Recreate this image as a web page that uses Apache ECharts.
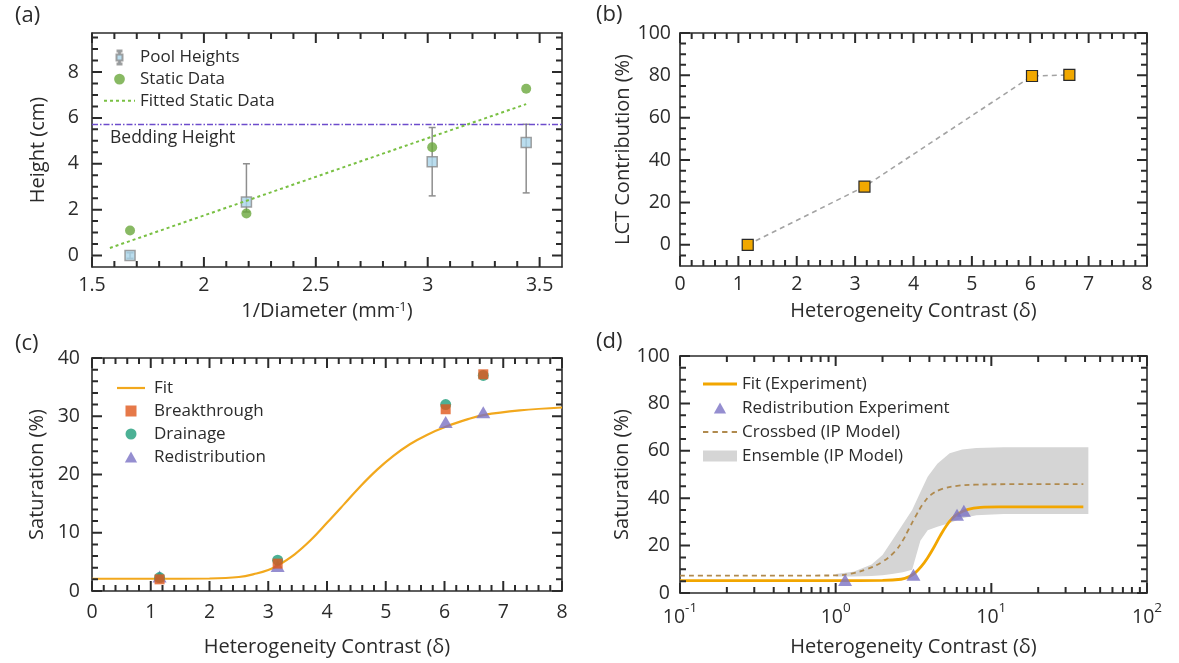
<!DOCTYPE html>
<html>
<head>
<meta charset="utf-8">
<script src="https://cdn.jsdelivr.net/npm/echarts@6/dist/echarts.min.js"></script>
<style>
  html, body { margin: 0; padding: 0; background: #ffffff; }
  #main { width: 1179px; height: 663px; }
</style>
</head>
<body>
<div id="main"></div>
<script>
// ---------- (a) pool height versus inverse grain diameter ----------
const poolX = [1.67, 2.19, 3.02, 3.44];
const poolY = [0.0, 2.33, 4.09, 4.93];
const poolLow = [-0.12, 1.9, 2.6, 2.73];
const poolHigh = [0.12, 4.0, 5.58, 5.72];
const staticX = [1.67, 2.19, 3.02, 3.44];
const staticY = [1.09, 1.83, 4.72, 7.27];
const fittedX = [1.58, 3.44];
const fittedY = [0.33, 6.6];
const beddingHeight = 5.74;

// ---------- (b) LCT contribution ----------
const lctX = [1.16, 3.16, 6.03, 6.67];
const lctY = [0, 27.5, 79.7, 80.2];

// ---------- (c) saturation versus heterogeneity contrast ----------
const expX = [1.15, 3.16, 6.02, 6.66];
const breakthroughY = [2.0, 4.7, 31.2, 37.2];
const drainageY = [2.3, 5.3, 32.0, 37.0];
const redistributionY = [2.5, 4.3, 29.0, 30.7];
const fitCX = [0, 1, 2, 2.5, 2.8, 3.0, 3.15, 3.45, 3.72, 4.0, 4.3, 4.57, 4.85, 5.13, 5.41, 5.7, 6.02, 6.4, 6.66, 7.28, 8];
const fitCY = [2.1, 2.1, 2.15, 2.4, 3.0, 3.6, 4.3, 6.3, 8.7, 11.7, 15.0, 18.0, 20.8, 23.2, 25.2, 26.8, 28.2, 29.5, 30.2, 31.0, 31.5];

// ---------- (d) experiment versus invasion-percolation model ----------
const redistDX = [1.15, 3.16, 6.02, 6.66];
const redistDY = [5.5, 7.7, 33.0, 34.7];
const fitDX = [0.1, 1, 2.0, 2.63, 2.95, 3.24, 3.55, 3.89, 4.27, 4.68, 5.13, 5.62, 6.17, 7.08, 8.51, 11.2, 39];
const fitDY = [5.2, 5.2, 5.3, 5.8, 6.8, 8.5, 11.2, 14.8, 19.2, 24.0, 28.3, 31.5, 33.6, 35.3, 36.1, 36.3, 36.3];
const crossX = [0.1, 1.0, 1.26, 1.58, 2.0, 2.4, 2.69, 2.95, 3.24, 3.63, 4.07, 4.79, 6.03, 7.94, 12.6, 39];
const crossY = [7.3, 7.4, 8.2, 10.0, 13.2, 17.5, 22.0, 27.0, 32.0, 37.5, 41.3, 43.8, 45.2, 45.7, 45.9, 45.9];
const ensX = [1.0, 1.3, 1.7, 2.0, 2.3, 2.7, 3.1, 3.5, 3.9, 4.5, 5.4, 6.5, 8, 12, 42];
const ensLow = [7.0, 7.0, 7.2, 7.5, 8.0, 8.8, 9.8, 22, 26.5, 28, 29.5, 31.5, 32.8, 33.3, 33.3];
const ensHigh = [8.0, 9.0, 12, 16, 22, 29, 35, 42.5, 49, 54.5, 59, 60.5, 61.2, 61.5, 61.5];

// ---------- tick positions ----------
const aXMajor = [1.5, 2, 2.5, 3, 3.5];
const aXMinor = [1.6, 1.7, 1.8, 1.9, 2.1, 2.2, 2.3, 2.4, 2.6, 2.7, 2.8, 2.9, 3.1, 3.2, 3.3, 3.4];
const aYMajor = [0, 2, 4, 6, 8];
const aYMinor = [0.5, 1, 1.5, 2.5, 3, 3.5, 4.5, 5, 5.5, 6.5, 7, 7.5, 8.5, 9, 9.5];
const deltaMajor = [0, 1, 2, 3, 4, 5, 6, 7, 8];
const deltaMinor = [0.2, 0.4, 0.6, 0.8, 1.2, 1.4, 1.6, 1.8, 2.2, 2.4, 2.6, 2.8, 3.2, 3.4, 3.6, 3.8,
  4.2, 4.4, 4.6, 4.8, 5.2, 5.4, 5.6, 5.8, 6.2, 6.4, 6.6, 6.8, 7.2, 7.4, 7.6, 7.8];
const pctMajor = [0, 20, 40, 60, 80, 100];
const pctMinor = [-5, 5, 10, 15, 25, 30, 35, 45, 50, 55, 65, 70, 75, 85, 90, 95];
const pctMinorD = [5, 10, 15, 25, 30, 35, 45, 50, 55, 65, 70, 75, 85, 90, 95];
const cYMajor = [0, 10, 20, 30, 40];
const cYMinor = [2, 4, 6, 8, 12, 14, 16, 18, 22, 24, 26, 28, 32, 34, 36, 38];
const logMajor = [0.1, 1, 10, 100];
const logExponents = ['-1', '0', '1', '2'];
const logMinor = [0.2, 0.3, 0.4, 0.5, 0.6, 0.7, 0.8, 0.9, 2, 3, 4, 5, 6, 7, 8, 9, 20, 30, 40, 50, 60, 70, 80, 90];

const FONT = 'Open Sans';
const INK = '#2b2b2b';
const TICK_FONT = 19.5;
const NAME_FONT = 20;
const LEGEND_FONT = 17;
const MAJOR_LEN = 10;
const MINOR_LEN = 6;

// plot rectangles (pixels)
const gridBoxes = [
  { left: 92, top: 33, width: 470, height: 234 },
  { left: 680, top: 33, width: 467, height: 233 },
  { left: 92, top: 358, width: 470, height: 233 },
  { left: 680, top: 356, width: 467, height: 237 }
];

// Labelled axis plus a mirrored, unlabelled one so every plot gets a closed frame.
function frameAxes(dim, gridIndex, o) {
  const near = dim === 'x' ? 'bottom' : 'left';
  const far = dim === 'x' ? 'top' : 'right';
  const base = {
    gridIndex: gridIndex,
    type: o.type || 'value',
    min: o.min, max: o.max,
    splitLine: { show: false },
    axisPointer: { show: false },
    axisTick: { show: false },
    axisLine: { show: true, onZero: false, lineStyle: { color: INK, width: 1.6 } }
  };
  if (o.type === 'log') base.logBase = 10;
  const label = Object.assign({
    show: true, color: INK, fontFamily: FONT, fontSize: TICK_FONT, margin: o.margin
  }, o.label || {});
  if (o.major) label.customValues = o.major;
  return [
    Object.assign({}, base, {
      position: near,
      name: o.name, nameLocation: 'middle', nameGap: o.nameGap,
      nameRotate: dim === 'y' ? 90 : 0,
      nameTextStyle: Object.assign({ color: INK, fontFamily: FONT, fontSize: NAME_FONT }, o.nameStyle || {}),
      axisLabel: label
    }),
    Object.assign({}, base, { position: far, axisLabel: { show: false } })
  ];
}

const supRich = {
  s: { fontFamily: FONT, fontSize: 13, verticalAlign: 'top', color: INK }
};

const xAxes = [].concat(
  frameAxes('x', 0, { min: 1.5, max: 3.6, major: aXMajor, margin: 8,
    name: '1/Diameter (mm{s|-1})', nameGap: 34, nameStyle: { rich: supRich } }),
  frameAxes('x', 1, { min: 0, max: 8, major: deltaMajor, margin: 8,
    name: 'Heterogeneity Contrast (\u03b4)', nameGap: 35 }),
  frameAxes('x', 2, { min: 0, max: 8, major: deltaMajor, margin: 11,
    name: 'Heterogeneity Contrast (\u03b4)', nameGap: 46 }),
  frameAxes('x', 3, { type: 'log', min: 0.1, max: 100, margin: 8,
    name: 'Heterogeneity Contrast (\u03b4)', nameGap: 44,
    label: {
      formatter: function (v, i) { return '{b|10}{s|' + logExponents[i] + '}'; },
      rich: {
        b: { fontFamily: FONT, fontSize: TICK_FONT, color: INK, padding: [6, 0, 0, 0], verticalAlign: 'bottom' },
        s: { fontFamily: FONT, fontSize: 13.5, color: INK, verticalAlign: 'top' }
      }
    } })
);
const yAxes = [].concat(
  frameAxes('y', 0, { min: -0.5, max: 9.7, major: aYMajor, margin: 13,
    name: 'Height (cm)', nameGap: 44 }),
  frameAxes('y', 1, { min: -10, max: 100, major: pctMajor, margin: 9,
    name: 'LCT Contribution (%)', nameGap: 43 }),
  frameAxes('y', 2, { min: 0, max: 40, major: cYMajor, margin: 12,
    name: 'Saturation (%)', nameGap: 45 }),
  frameAxes('y', 3, { min: 0, max: 100, major: pctMajor, margin: 10,
    name: 'Saturation (%)', nameGap: 44 })
);

// tick layout per plot: which axes, the value ranges, and the tick values
const frames = [
  { ax: 0, box: gridBoxes[0], xr: [1.5, 3.6], yr: [-0.5, 9.7], logX: false,
    xMajor: aXMajor, xMinor: aXMinor, yMajor: aYMajor, yMinor: aYMinor },
  { ax: 2, box: gridBoxes[1], xr: [0, 8], yr: [-10, 100], logX: false,
    xMajor: deltaMajor, xMinor: deltaMinor, yMajor: pctMajor, yMinor: pctMinor },
  { ax: 4, box: gridBoxes[2], xr: [0, 8], yr: [0, 40], logX: false,
    xMajor: deltaMajor, xMinor: deltaMinor, yMajor: cYMajor, yMinor: cYMinor },
  { ax: 6, box: gridBoxes[3], xr: [0.1, 100], yr: [0, 100], logX: true,
    xMajor: logMajor, xMinor: logMinor, yMajor: pctMajor, yMinor: pctMinorD }
];

// Tick marks as broken polylines in data space: each tick runs from an edge
// inward by a fixed pixel length converted to that axis' units.
function tickLine(f, xVals, yVals, len) {
  const dy = len * (f.yr[1] - f.yr[0]) / f.box.height;
  function shiftX(x, px) {
    if (f.logX) {
      const decades = Math.log10(f.xr[1] / f.xr[0]);
      return x * Math.pow(10, px * decades / f.box.width);
    }
    return x + px * (f.xr[1] - f.xr[0]) / f.box.width;
  }
  const pts = [];
  xVals.forEach(function (v) {
    pts.push([v, f.yr[0]], [v, f.yr[0] + dy], [v, '-']);
    pts.push([v, f.yr[1]], [v, f.yr[1] - dy], [v, '-']);
  });
  yVals.forEach(function (v) {
    pts.push([f.xr[0], v], [shiftX(f.xr[0], len), v], [f.xr[0], '-']);
    pts.push([f.xr[1], v], [shiftX(f.xr[1], -len), v], [f.xr[1], '-']);
  });
  return {
    type: 'line', name: 'ticks', xAxisIndex: f.ax, yAxisIndex: f.ax,
    silent: true, clip: false, z: 6, symbol: 'none', connectNulls: false,
    lineStyle: { color: INK, width: 2 },
    data: pts
  };
}
function tickSeries(f) {
  return [
    tickLine(f, f.xMajor, f.yMajor, MAJOR_LEN),
    tickLine(f, f.xMinor, f.yMinor, MINOR_LEN)
  ];
}

function pairs(xs, ys) { return xs.map(function (x, i) { return [x, ys[i]]; }); }

const SQUARE = 'path://M0,0 L10,0 L10,10 L0,10 Z';
const TRIANGLE = 'path://M5,0 L10,9 L0,9 Z';
const DOT = 'path://M0,0 M13,13 M6.5,1.5 A5,5 0 1 1 6.49,1.5 Z';
const ERRBAR = 'path://M4,0 L8,0 L8,1 L6.6,1 L6.6,4 L9,4 L9,10 L6.6,10 L6.6,13 L8,13 L8,14 L4,14 L4,13 L5.4,13 L5.4,10 L3,10 L3,4 L5.4,4 L5.4,1 L4,1 Z';
const DOTTED = 'path://M0,0h3v2h-3z M6,0h3v2h-3z M12,0h3v2h-3z M18,0h3v2h-3z M24,0h3v2h-3z M30,0h1v2h-1z';
const SOLID_C = 'path://M0,0h28v2.2h-28z';
const SOLID_D = 'path://M0,0h34v2.8h-34z';
const DASHED = 'path://M0,0h5v1.8h-5z M9,0h5v1.8h-5z M18,0h5v1.8h-5z M27,0h5v1.8h-5z';

const legendText = { fontFamily: FONT, fontSize: LEGEND_FONT, color: INK, lineHeight: 18 };
const panelTitle = { fontFamily: FONT, fontSize: 22, fontWeight: 'normal', color: INK };

const dataSeries = [
  // ----- (a) -----
  {
    type: 'custom', name: 'pool-error', xAxisIndex: 0, yAxisIndex: 0, silent: true, z: 2,
    data: poolX.map(function (x, i) { return [x, poolLow[i], poolHigh[i]]; }),
    encode: { x: 0, y: [1, 2] },
    renderItem: function (params, api) {
      const x = api.value(0);
      const lo = api.coord([x, api.value(1)]);
      const hi = api.coord([x, api.value(2)]);
      const st = { stroke: '#8e8e8e', lineWidth: 1.5 };
      const cap = 3.5;
      return { type: 'group', children: [
        { type: 'line', shape: { x1: lo[0], y1: lo[1], x2: hi[0], y2: hi[1] }, style: st },
        { type: 'line', shape: { x1: lo[0] - cap, y1: lo[1], x2: lo[0] + cap, y2: lo[1] }, style: st },
        { type: 'line', shape: { x1: hi[0] - cap, y1: hi[1], x2: hi[0] + cap, y2: hi[1] }, style: st }
      ] };
    }
  },
  {
    type: 'scatter', name: 'Pool Heights', xAxisIndex: 0, yAxisIndex: 0, z: 3,
    symbol: 'rect', symbolSize: 10,
    itemStyle: { color: '#a9d4ea', borderColor: '#8a8a8a', borderWidth: 1.5 },
    data: pairs(poolX, poolY)
  },
  {
    type: 'scatter', name: 'Static Data', xAxisIndex: 0, yAxisIndex: 0, z: 4,
    symbol: 'circle', symbolSize: 10,
    itemStyle: { color: '#6aa83c' },
    data: pairs(staticX, staticY)
  },
  {
    type: 'line', name: 'Fitted Static Data', xAxisIndex: 0, yAxisIndex: 0, z: 5,
    symbol: 'none', lineStyle: { color: '#79c043', width: 2, type: [3, 3] },
    itemStyle: { color: '#79c043' },
    data: pairs(fittedX, fittedY)
  },
  {
    type: 'line', name: 'bedding', xAxisIndex: 0, yAxisIndex: 0, z: 5, data: [],
    markLine: {
      silent: true, symbol: ['none', 'none'],
      lineStyle: { color: '#6d4ccc', width: 1.4, type: [6, 2, 1.5, 2] },
      label: { show: true, position: 'insideStartBottom', formatter: 'Bedding Height',
        fontFamily: FONT, fontSize: 17.5, color: INK, distance: [18, 5] },
      data: [{ yAxis: beddingHeight }]
    }
  },
  // ----- (b) -----
  {
    type: 'line', name: 'LCT', xAxisIndex: 2, yAxisIndex: 2, z: 3,
    symbol: 'rect', symbolSize: 11, showSymbol: true,
    itemStyle: { color: '#f1a800', borderColor: '#2a2a2a', borderWidth: 1.2 },
    lineStyle: { color: '#a3a3a3', width: 1.6, type: [5, 4] },
    data: pairs(lctX, lctY)
  },
  // ----- (c) -----
  {
    type: 'line', name: 'Fit', xAxisIndex: 4, yAxisIndex: 4, z: 2,
    symbol: 'none', smooth: 0.4,
    lineStyle: { color: '#f2a81d', width: 2.2 },
    itemStyle: { color: '#f2a81d' },
    data: pairs(fitCX, fitCY)
  },
  {
    type: 'scatter', name: 'Redistribution', xAxisIndex: 4, yAxisIndex: 4, z: 3,
    symbol: 'triangle', symbolSize: [14, 12], itemStyle: { color: '#7b72c4' },
    data: pairs(expX, redistributionY)
  },
  {
    type: 'scatter', name: 'Drainage', xAxisIndex: 4, yAxisIndex: 4, z: 4,
    symbol: 'circle', symbolSize: 11, itemStyle: { color: '#1f9e7a' },
    data: pairs(expX, drainageY)
  },
  {
    type: 'scatter', name: 'Breakthrough', xAxisIndex: 4, yAxisIndex: 4, z: 5,
    symbol: 'rect', symbolSize: 10, itemStyle: { color: '#e0571c' },
    data: pairs(expX, breakthroughY)
  },
  // ----- (d) -----
  {
    type: 'custom', name: 'Ensemble (IP Model)', xAxisIndex: 6, yAxisIndex: 6, z: 1, silent: true,
    itemStyle: { color: '#d5d5d5' },
    data: ensX.map(function (x, i) { return [x, ensLow[i], ensHigh[i]]; }),
    encode: { x: 0, y: [1, 2] },
    renderItem: function (params, api) {
      if (params.dataIndex !== 0) return null;
      const upper = ensX.map(function (x, i) { return api.coord([x, ensHigh[i]]); });
      const lower = ensX.map(function (x, i) { return api.coord([x, ensLow[i]]); }).reverse();
      return { type: 'polygon', shape: { points: upper.concat(lower) }, style: { fill: '#d5d5d5' } };
    }
  },
  {
    type: 'line', name: 'Crossbed (IP Model)', xAxisIndex: 6, yAxisIndex: 6, z: 2,
    symbol: 'none', smooth: 0.4,
    lineStyle: { color: '#b08a4e', width: 1.8, type: [5, 4] },
    itemStyle: { color: '#b08a4e' },
    data: pairs(crossX, crossY)
  },
  {
    type: 'line', name: 'Fit (Experiment)', xAxisIndex: 6, yAxisIndex: 6, z: 3,
    symbol: 'none', smooth: 0.4,
    lineStyle: { color: '#f2a600', width: 2.8 },
    itemStyle: { color: '#f2a600' },
    data: pairs(fitDX, fitDY)
  },
  {
    type: 'scatter', name: 'Redistribution Experiment', xAxisIndex: 6, yAxisIndex: 6, z: 4,
    symbol: 'triangle', symbolSize: [14, 12], itemStyle: { color: '#7b72c4' },
    data: pairs(redistDX, redistDY)
  }
];

let allSeries = dataSeries.slice();
frames.forEach(function (f) { allSeries = allSeries.concat(tickSeries(f)); });

const option = {
  backgroundColor: '#ffffff',
  animation: false,
  title: [
    { text: '(a)', left: 15, top: 5, padding: 0, textStyle: panelTitle },
    { text: '(b)', left: 596, top: 4, padding: 0, textStyle: panelTitle },
    { text: '(c)', left: 15, top: 333, padding: 0, textStyle: panelTitle },
    { text: '(d)', left: 596, top: 331, padding: 0, textStyle: panelTitle }
  ],
  grid: gridBoxes,
  legend: [
    { orient: 'vertical', left: 104, top: 48.5, padding: 0, itemWidth: 31, itemHeight: 14, itemGap: 3.6,
      textStyle: legendText, selectedMode: false,
      data: [{ name: 'Pool Heights', icon: ERRBAR }, { name: 'Static Data', icon: DOT },
        { name: 'Fitted Static Data', icon: DOTTED }] },
    { orient: 'vertical', left: 117, top: 379, padding: 0, itemWidth: 28, itemHeight: 11, itemGap: 5,
      textStyle: Object.assign({ padding: [0, 0, 0, 4] }, legendText), selectedMode: false,
      data: [{ name: 'Fit', icon: SOLID_C }, { name: 'Breakthrough', icon: SQUARE },
        { name: 'Drainage', icon: 'circle' }, { name: 'Redistribution', icon: TRIANGLE }] },
    { orient: 'vertical', left: 703, top: 375, padding: 0, itemWidth: 34, itemHeight: 11, itemGap: 6,
      textStyle: legendText, selectedMode: false,
      data: [{ name: 'Fit (Experiment)', icon: SOLID_D }, { name: 'Redistribution Experiment', icon: TRIANGLE },
        { name: 'Crossbed (IP Model)', icon: DASHED }, { name: 'Ensemble (IP Model)', icon: 'rect' }] }
  ],
  xAxis: xAxes,
  yAxis: yAxes,
  series: allSeries
};

const chart = echarts.init(document.getElementById('main'), null, { renderer: 'canvas' });
chart.setOption(option);
</script>
</body>
</html>
